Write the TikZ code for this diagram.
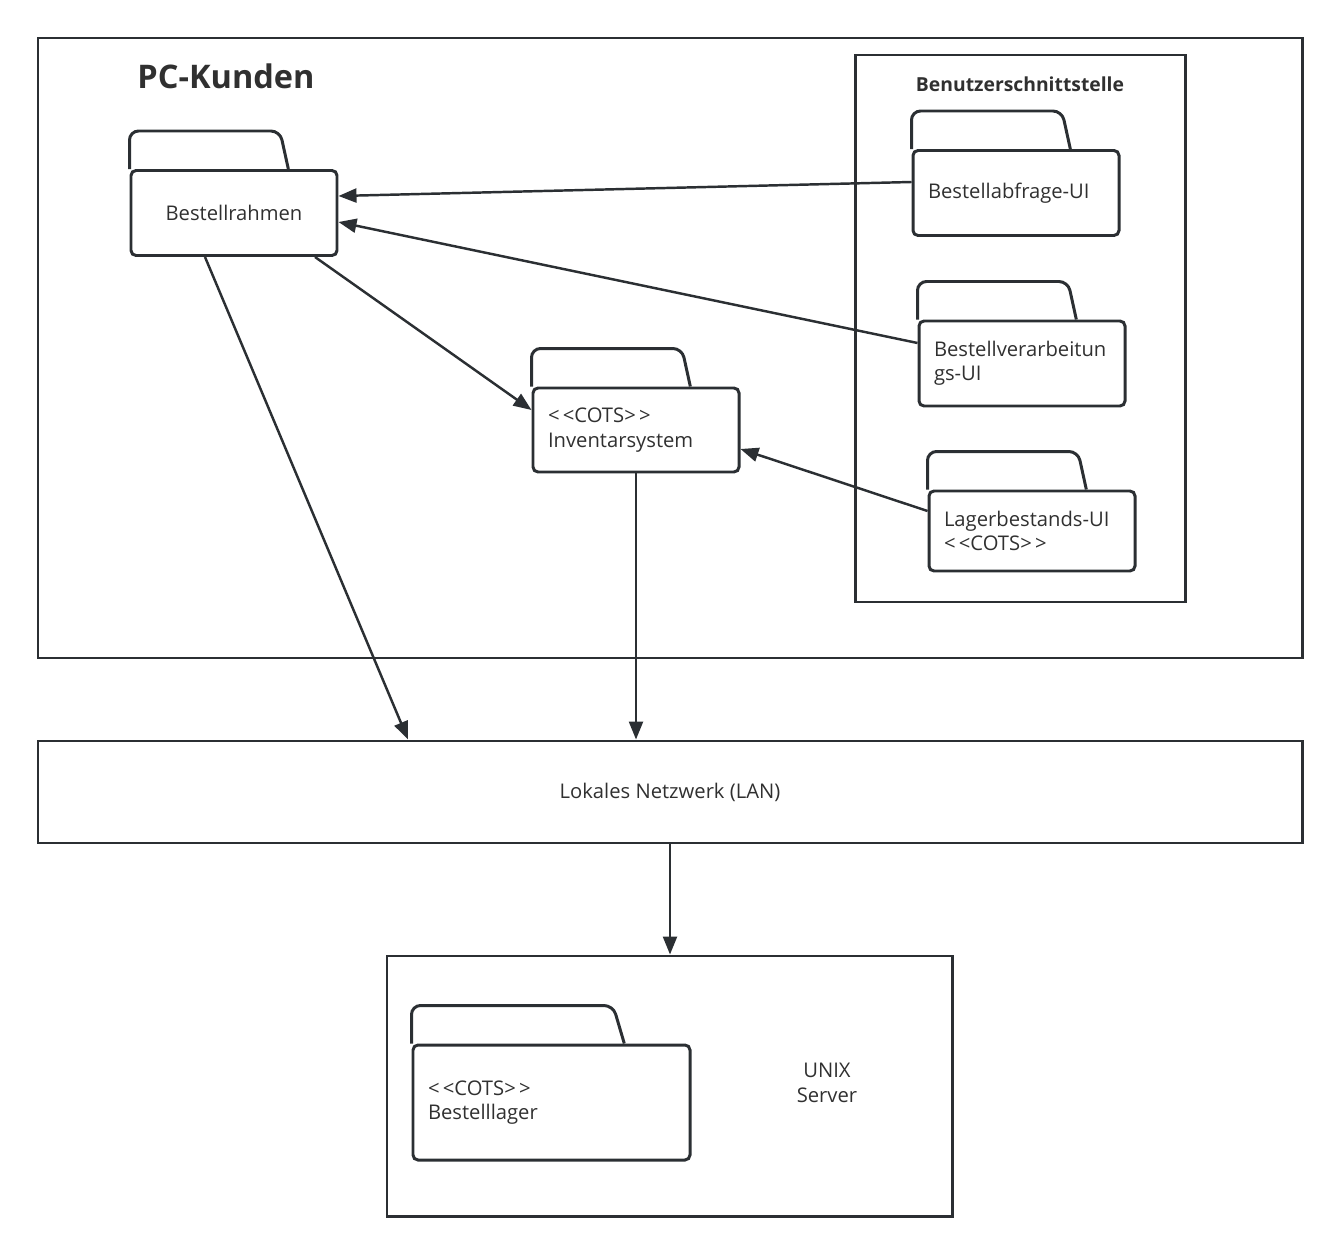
\documentclass[tikz,border=0pt]{standalone}
\usepackage{fontspec}
\setmainfont{Open Sans}
\usetikzlibrary{positioning, arrows.meta, calc}

\definecolor{umlline}{HTML}{2B2F33}
\definecolor{umltext}{HTML}{303030}

% Reiter oben auf einem Paket
\newcommand{\pkgtab}[1]{%
  \draw[pkgline, rounded corners=0.18cm]
    (#1.north west) -- ++(0,0.76)
    -- ($(#1.north west)!0.72!(#1.north east)+(0,0.76)$)
    -- ($(#1.north west)!0.76!(#1.north east)$);}

\begin{document}
\begin{tikzpicture}[
    every node/.style={font=\fontsize{11.5}{13.8}\selectfont, text=umltext},
    frame/.style={
        draw=umlline,
        line width=1.7pt,
        inner sep=0pt
    },
    pkg/.style={
        draw=umlline,
        line width=1.7pt,
        rounded corners=0.1cm,
        inner xsep=0.3cm,
        text width=3.52cm,
        align=left,
        minimum height=1.7cm
    },
    pkgline/.style={draw=umlline, line width=1.7pt},
    conn/.style={
        draw=umlline,
        line width=1.4pt,
        -{Triangle[length=0.36cm, width=0.28cm]}
    },
    title/.style={font=\fontsize{18.5}{22}\selectfont\bfseries}
]
\useasboundingbox (0,0) rectangle (26.78,-25.06);

% --- Rahmen ---
\node[frame, minimum width=25.28cm, minimum height=12.40cm] (pc) at (13.40,-6.96) {};
\node[title] (pctitle) at (4.52,-1.52) {PC-Kunden};
\node[frame, minimum width=6.60cm, minimum height=10.94cm] (ui) at (20.40,-6.57) {};
\node[font=\fontsize{11}{13.6}\selectfont\bfseries] (uititle) at (20.40,-1.68) {Benutzerschnittstelle};

% --- Pakete in PC-Kunden ---
\node[pkg, align=center] (rahmen) at (4.68,-4.26) {Bestellrahmen};
\node[pkg] (abfrage) at (20.32,-3.86) {Bestellabfrage-UI};
\node[pkg] (verarb) at (20.44,-7.27) {Bestellverarbeitun\\gs-UI};
\node[pkg, minimum height=1.6cm] (lager) at (20.64,-10.62) {Lagerbestands-UI\\<\,<COTS>\,>};
\node[pkg, minimum height=1.68cm] (invent) at (12.72,-8.60) {<\,<COTS>\,>\\Inventarsystem};
\pkgtab{rahmen}
\pkgtab{abfrage}
\pkgtab{verarb}
\pkgtab{lager}
\pkgtab{invent}

% --- Netzwerk und Server ---
\node[frame, minimum width=25.28cm, minimum height=2.04cm] (lan) at (13.40,-15.84) {};
\node (lantext) at (lan) {Lokales Netzwerk (LAN)};
\node[frame, minimum width=11.30cm, minimum height=5.20cm] (unix) at (13.39,-21.72) {};
\node[align=center] (unixtext) at (16.54,-21.66) {UNIX\\Server};
\node[pkg, text width=4.94cm, minimum height=2.30cm] (bestlager) at (11.03,-22.05) {<\,<COTS>\,>\\Bestelllager};
\pkgtab{bestlager}

% --- Verbindungen ---
\draw[conn] ([yshift=0.22cm]abfrage.west) -- ([yshift=0.34cm]rahmen.east);
\draw[conn] ([yshift=0.41cm]verarb.west) -- ([yshift=-0.18cm]rahmen.east);
\draw[conn] ([xshift=1.62cm]rahmen.south) -- ([yshift=0.40cm]invent.west);
\draw[conn] ([yshift=0.40cm]lager.west) -- ([yshift=-0.38cm]invent.east);
\draw[conn] ([xshift=-0.58cm]rahmen.south) -- ([xshift=-5.24cm]lan.north);
\draw[conn] (invent.south) -- (invent.south |- lan.north);
\draw[conn] (lan.south) -- (lan.south |- unix.north);

\end{tikzpicture}
\end{document}
